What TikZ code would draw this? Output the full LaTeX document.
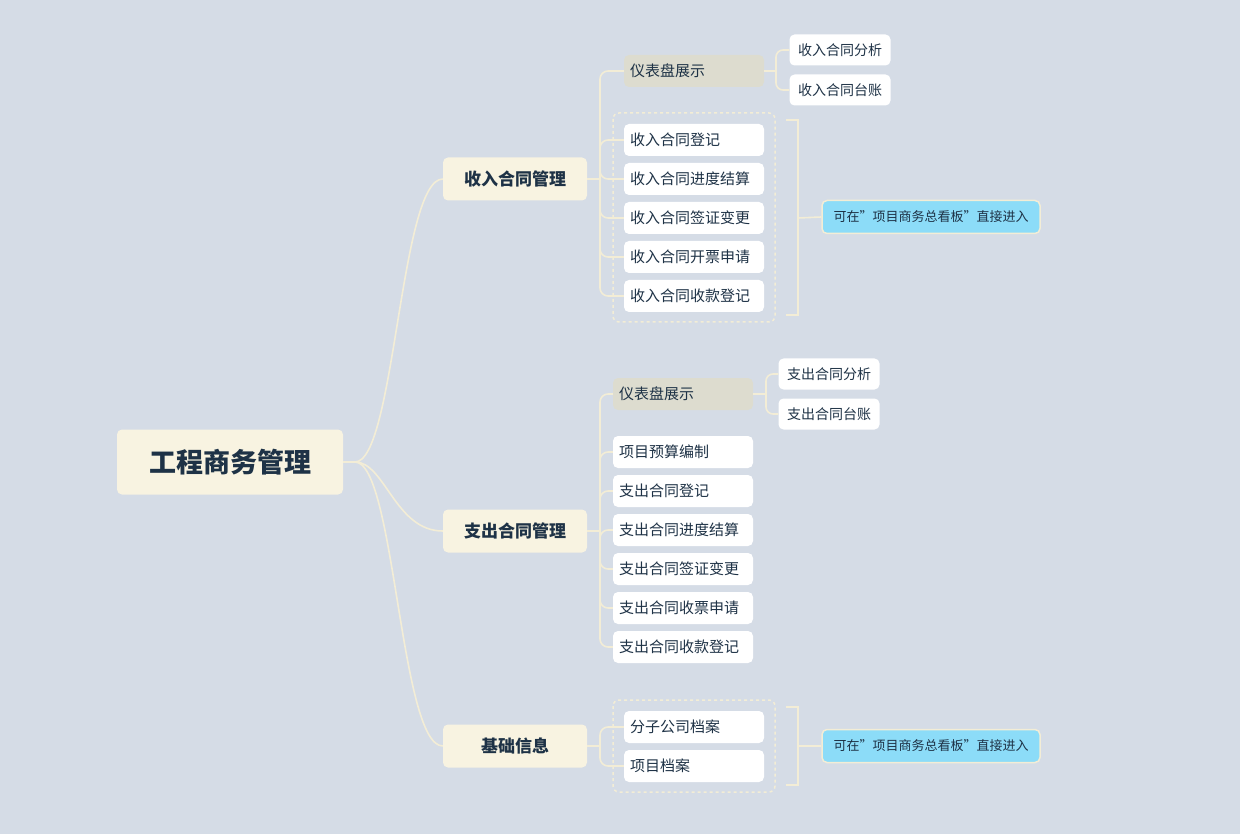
\documentclass[tikz,border=0pt]{standalone}
\usepackage{fontspec}
\setmainfont{Noto Sans CJK SC}
\begin{document}
\begin{tikzpicture}[x=1pt,y=-1pt,
  ln/.style={draw=lnc,line width=1.6pt},
  root/.style={fill=lvl,rounded corners=5pt,minimum width=226pt,minimum height=65pt,font=\fontsize{27}{30}\selectfont\bfseries,text=txt},
  lone/.style={fill=lvl,rounded corners=5pt,minimum width=144pt,minimum height=43pt,font=\fontsize{17}{20}\selectfont\bfseries,text=txt},
  leaf/.style={fill=white,rounded corners=5pt,minimum width=140pt,minimum height=32pt,text width=128pt,align=left,font=\fontsize{15}{18}\selectfont,text=txt},
  dashbox/.style={fill=dashc,rounded corners=5pt,minimum width=140pt,minimum height=32pt,text width=128pt,align=left,font=\fontsize{15}{18}\selectfont,text=txt},
  sleaf/.style={fill=white,rounded corners=5pt,minimum width=101pt,minimum height=31pt,font=\fontsize{14}{17}\selectfont,text=txt},
  note/.style={fill=notec,draw=lnc,line width=1.5pt,rounded corners=5pt,minimum width=218pt,minimum height=33pt,font=\fontsize{13}{16}\selectfont,text=txt},
  grp/.style={draw=lnc,dashed,line width=1.5pt,rounded corners=6pt}
]
\definecolor{bg}{HTML}{D5DCE6}
\definecolor{lvl}{HTML}{F8F3E1}
\definecolor{lnc}{HTML}{F3EDD6}
\definecolor{txt}{HTML}{1E3246}
\definecolor{dashc}{HTML}{DDDCCF}
\definecolor{notec}{HTML}{8CDCF8}
\fill[bg] (0,0) rectangle (1240,834);
\useasboundingbox (0,0) rectangle (1240,834);

\draw[grp] (613,113) rectangle (775,322);
\draw[grp] (613,700) rectangle (775,792);

\node[root] (r) at (230,462) {工程商务管理};
\node[lone] (a) at (515,179) {收入合同管理};
\node[lone] (b) at (515,531) {支出合同管理};
\node[lone] (c) at (515,746) {基础信息};

\draw[ln] (r.east) -- (355,462);
\draw[ln] (355,462) .. controls (395,462) and (400,179) .. (a.west);
\draw[ln] (355,462) .. controls (385,462) and (395,531) .. (b.west);
\draw[ln] (355,462) .. controls (395,462) and (400,746) .. (c.west);

% income
\node[dashbox] (a0) at (694,71) {仪表盘展示};
\node[leaf] (a1) at (694,140) {收入合同登记};
\node[leaf] (a2) at (694,179) {收入合同进度结算};
\node[leaf] (a3) at (694,218) {收入合同签证变更};
\node[leaf] (a4) at (694,257) {收入合同开票申请};
\node[leaf] (a5) at (694,296) {收入合同收款登记};
\draw[ln] (a.east) -- (600,179);
\foreach \n in {a0,a1,a2,a3,a4,a5}
  \draw[ln,rounded corners=8pt] (600,179) |- (\n.west);
\node[sleaf] (a01) at (840,50) {收入合同分析};
\node[sleaf] (a02) at (840,90) {收入合同台账};
\draw[ln] (a0.east) -- (776,71);
\foreach \n in {a01,a02}
  \draw[ln,rounded corners=7pt] (776,71) |- (\n.west);
\node[note] (na) at (931,217) {可在"项目商务总看板"直接进入};
\coordinate (ka) at (798,218);
\draw[ln] (786,120) -- (798,120) -- (798,315) -- (786,315);
\draw[ln] (ka) -- (na.west);

% expense
\node[dashbox] (b0) at (683,394) {仪表盘展示};
\node[leaf] (b1) at (683,452) {项目预算编制};
\node[leaf] (b2) at (683,491) {支出合同登记};
\node[leaf] (b3) at (683,530) {支出合同进度结算};
\node[leaf] (b4) at (683,569) {支出合同签证变更};
\node[leaf] (b5) at (683,608) {支出合同收票申请};
\node[leaf] (b6) at (683,647) {支出合同收款登记};
\draw[ln] (b.east) -- (600,531);
\foreach \n in {b0,b1,b2,b3,b4,b5,b6}
  \draw[ln,rounded corners=8pt] (600,531) |- (\n.west);
\node[sleaf] (b01) at (829,374) {支出合同分析};
\node[sleaf] (b02) at (829,414) {支出合同台账};
\draw[ln] (b0.east) -- (766,394);
\foreach \n in {b01,b02}
  \draw[ln,rounded corners=7pt] (766,394) |- (\n.west);

% base
\node[leaf] (c1) at (694,727) {分子公司档案};
\node[leaf] (c2) at (694,766) {项目档案};
\draw[ln] (c.east) -- (600,746);
\foreach \n in {c1,c2}
  \draw[ln,rounded corners=8pt] (600,746) |- (\n.west);
\node[note] (nc) at (931,746) {可在"项目商务总看板"直接进入};
\coordinate (kc) at (798,746);
\draw[ln] (786,707) -- (798,707) -- (798,785) -- (786,785);
\draw[ln] (kc) -- (nc.west);
\end{tikzpicture}
\end{document}
